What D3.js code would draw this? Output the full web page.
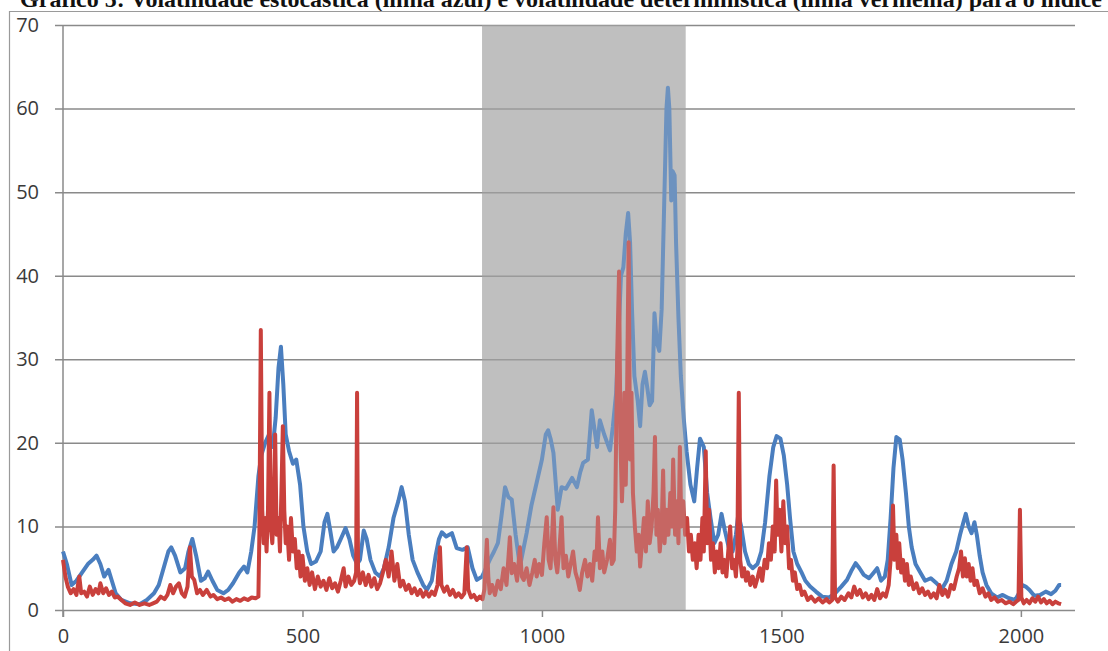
<!DOCTYPE html>
<html>
<head>
<meta charset="utf-8">
<script src="https://cdn.jsdelivr.net/npm/d3@7"></script>
<style>
  body { margin: 0; background: #fff; }
  svg { display: block; }
</style>
</head>
<body>
<div id="chart"></div>
<script>
const titleText = "Gráfico 5: Volatilidade estocástica (linha azul) e volatilidade determinística (linha vermelha) para o índice";

const yTicks = [0, 10, 20, 30, 40, 50, 60, 70];
const xTicks = [0, 500, 1000, 1500, 2000];

// shaded period (observation index)
const shadeStart = 875;
const shadeEnd = 1300;

// stochastic volatility (blue) [t, value]
const blueSeries = [
  [0,7],[8,5.5],[18,3],[28,3.5],[40,4.5],[52,5.5],[62,6],[70,6.5],[78,5.5],[86,4],[95,4.8],[102,3.5],[110,2],[122,1.2],
  [140,0.8],[160,0.7],[175,1.2],[190,2],[200,3],[210,5],[220,7],[226,7.5],[234,6.5],[245,4.5],[255,5],[262,7],[270,8.5],
  [278,6.5],[288,3.5],[296,3.8],[303,4.6],[312,3.5],[322,2.4],[335,2],[345,2.4],[355,3.2],[368,4.5],[378,5.2],[385,4.5],
  [393,7],[400,10],[408,16],[414,18.5],[422,20],[430,21],[438,19.5],[444,23],[450,29],[455,31.5],[460,27],[465,21],
  [472,19],[480,17.5],[487,18],[495,15],[502,10],[510,7],[518,5.5],[528,5.8],[538,7],[546,10.5],[552,11.5],[558,9.5],
  [565,7],[572,7.5],[580,8.5],[590,9.8],[598,8.5],[606,6.5],[614,5.5],[620,6],[628,9.5],[634,8.5],[642,6],[652,4.5],
  [662,4],[670,5],[680,7.5],[690,11],[700,13],[707,14.7],[714,13],[722,9],[730,6],[740,4.5],[752,3],[760,2.4],[770,3.5],
  [778,6.5],[785,8.5],[791,9.3],[800,8.8],[812,9.2],[822,7.4],[834,7.2],[845,7.5],[855,5],[864,3.6],[875,4],[883,5],
  [891,6],[900,7],[908,8],[915,11],[923,14.7],[930,13.5],[937,13.2],[945,9],[954,5.2],[962,7.5],[968,9.2],[978,12.5],
  [990,15.5],[1000,18],[1008,21],[1013,21.5],[1018,20.5],[1024,18.8],[1033,12],[1041,14.7],[1050,14.5],[1063,15.8],
  [1073,14.7],[1080,16.5],[1086,17.6],[1096,18],[1104,23.9],[1110,21.5],[1115,19.5],[1121,22.7],[1130,21],[1142,19.1],
  [1148,21.9],[1155,26],[1160,33],[1165,40],[1170,41],[1175,45],[1180,47.5],[1184,44],[1188,36],[1193,28],[1200,25],
  [1205,22],[1210,27],[1215,28.5],[1219,27],[1225,24.5],[1230,25],[1235,35.5],[1240,32],[1245,31],[1250,36],[1255,48],
  [1260,60],[1263,62.5],[1266,60],[1270,49],[1273,52.5],[1277,52],[1280,44],[1285,35],[1290,28],[1296,23],[1302,19],
  [1310,15],[1318,13],[1324,17],[1330,20.5],[1338,19.5],[1345,14],[1352,11],[1360,8],[1368,9],[1375,11.5],[1382,9.5],
  [1390,7.5],[1398,7],[1405,9],[1410,11.5],[1416,10],[1424,7],[1432,5.5],[1440,5],[1450,5.5],[1458,7],[1466,10.5],
  [1475,16],[1483,19.5],[1490,20.8],[1498,20.5],[1505,18.5],[1512,15],[1518,11],[1525,7],[1533,5.5],[1542,4.5],[1550,3.5],
  [1560,2.8],[1572,2.2],[1585,1.6],[1600,1.5],[1612,2],[1625,2.8],[1637,3.6],[1647,4.8],[1655,5.6],[1663,5],[1672,4.2],
  [1683,3.8],[1693,4.5],[1700,5],[1708,3.5],[1716,4],[1722,6],[1728,11],[1734,17],[1740,20.7],[1747,20.4],[1753,18],
  [1760,14],[1766,10],[1772,7.5],[1780,5.5],[1790,4.5],[1800,3.5],[1812,3.8],[1824,3.2],[1835,2.5],[1845,3.5],[1855,5.5],
  [1865,7],[1873,9],[1880,10.5],[1885,11.5],[1891,10],[1897,9.2],[1903,10.5],[1908,9],[1914,6.5],[1920,4.5],[1928,3],
  [1938,2],[1950,1.5],[1962,1.8],[1975,1.4],[1988,1.2],[1996,2],[2002,3],[2010,2.8],[2018,2.4],[2028,1.7],[2040,1.8],
  [2052,2.2],[2063,1.9],[2072,2.3],[2080,3],[2084,3]
];

// deterministic volatility (red) [t, value]
const redSeries = [
  [0,6],[5,4],[10,2.8],[16,2],[22,2.5],[28,1.8],[34,4],[38,2],[44,2.2],[50,1.6],[56,2.8],[62,1.8],[68,2.5],[74,2],[78,3.2],
  [84,2],[90,2.6],[96,1.8],[102,2.2],[108,1.5],[114,1.6],[122,1.2],[130,0.8],[140,0.6],[150,0.9],[160,0.6],[170,0.8],
  [180,0.6],[188,0.8],[196,1],[204,1.6],[212,1.3],[218,1.8],[224,3],[230,2],[236,2.8],[242,3.2],[248,2],[254,1.6],[260,2.8],
  [265,7.5],[269,4],[274,3.6],[280,2],[286,2.4],[292,1.8],[300,2.4],[308,1.6],[314,1.8],[322,1.3],[330,1.5],[338,1.2],
  [346,1.4],[354,1],[362,1.3],[370,1.1],[378,1.4],[386,1.2],[394,1.5],[402,1.4],[408,1.6],[410,9],[413,33.5],[416,12],
  [419,8],[422,11],[425,7],[428,12],[431,26],[434,10],[437,8],[440,12],[443,21],[446,9],[450,11],[453,7],[456,14],[459,22],
  [462,12],[465,8],[468,10],[472,6],[476,11],[480,7],[484,8.5],[488,5],[492,7],[496,4],[500,6.5],[505,3.5],[510,5],[515,3],
  [520,4.5],[526,2.5],[532,4],[538,2.8],[544,3.5],[550,2.4],[556,3.8],[562,2.6],[568,3.2],[574,2.2],[580,3.5],[586,5],
  [590,2.8],[596,4],[602,3],[608,3.5],[612,4.5],[614,26],[616,5],[620,3.2],[626,4.5],[632,3],[638,4.2],[644,2.8],[650,3.8],
  [656,2.5],[662,3.2],[668,4.5],[674,6],[680,4],[686,7],[692,3.5],[698,5.5],[704,2.8],[710,3.5],[716,2.4],[722,3],[728,2],
  [734,2.6],[740,1.8],[746,2.4],[752,1.6],[758,2.2],[764,1.6],[770,2.2],[776,1.8],[782,3],[787,7.5],[790,3],[796,2.2],
  [802,2.8],[808,1.8],[814,2.4],[820,1.6],[826,2],[832,1.5],[838,2],[843,7.5],[846,2.5],[852,1.5],[858,1.8],[864,1.2],
  [870,1.6],[876,1.3],[880,2.5],[885,8.4],[888,4],[891,2],[896,3],[902,1.8],[908,3.5],[914,2.5],[920,5],[926,3],[933,8.7],
  [937,4.4],[942,5.5],[948,3.5],[954,7.5],[958,4],[962,3.6],[968,5],[974,3],[980,4.5],[985,6],[989,4],[994,5.5],[1000,4.2],
  [1005,8],[1010,11.1],[1014,6],[1018,5],[1024,12.3],[1028,6],[1032,4.5],[1036,7],[1041,11.1],[1045,5],[1050,6.5],[1055,4],
  [1060,5.5],[1065,7],[1070,4.5],[1075,3.5],[1079,2.4],[1084,4.5],[1090,6],[1095,4],[1100,5.5],[1105,3.5],[1110,7],[1114,6],
  [1117,11.1],[1121,5],[1126,7],[1130,4.5],[1136,6],[1142,8.4],[1146,5.5],[1150,6],[1153,12],[1157,30],[1161,40.5],
  [1164,20],[1167,13],[1170,18],[1172,26],[1175,15],[1178,27],[1181,44],[1184,18],[1187,26],[1190,14],[1194,10],[1198,7],
  [1202,9],[1205,5.2],[1209,8],[1213,11],[1217,7],[1221,13],[1225,8],[1229,10],[1233,14],[1236,20.7],[1239,9],[1242,12],
  [1246,7],[1250,10],[1253,16.7],[1256,8],[1260,12],[1264,9],[1268,14],[1271,10],[1274,18],[1278,9],[1282,13],[1285,8],
  [1288,19.5],[1291,10],[1295,13],[1299,9],[1303,11],[1307,7],[1311,9],[1315,6],[1319,8],[1323,5],[1327,9],[1331,6],
  [1335,11],[1338,7],[1342,19],[1345,8],[1349,12],[1353,6],[1357,8],[1361,4.5],[1365,7],[1369,5],[1373,8],[1377,4.5],
  [1381,6],[1385,4],[1389,7],[1393,10],[1397,5],[1401,6],[1405,4],[1408,7],[1411,26],[1414,6],[1418,4],[1422,5],[1426,3.5],
  [1430,4.5],[1435,3],[1440,4],[1445,2.8],[1450,3.8],[1455,5],[1460,3.5],[1465,6],[1470,5],[1474,8],[1478,6],[1482,10],
  [1486,7],[1489,15.5],[1492,9],[1496,12],[1500,7],[1504,13],[1508,8],[1512,10],[1516,5],[1520,6],[1524,3.5],[1528,4.5],
  [1533,2.5],[1538,3],[1543,1.8],[1548,2.2],[1555,1.2],[1562,1.6],[1570,1],[1578,1.4],[1586,0.9],[1594,1.3],[1600,0.9],
  [1606,1.2],[1609,17.3],[1612,1.5],[1618,1],[1625,1.6],[1632,1.2],[1640,2],[1646,1.5],[1652,2.8],[1658,1.8],[1664,2.4],
  [1670,1.5],[1676,2],[1682,1.3],[1688,1.8],[1694,1.2],[1700,2.5],[1706,1.4],[1712,2],[1718,1.6],[1724,3],[1728,6],[1731,9],
  [1733,12.5],[1736,6],[1740,9],[1743,5],[1746,8],[1750,4.5],[1754,6],[1758,3.5],[1762,5.5],[1766,3],[1770,4],[1776,2.5],
  [1782,3.2],[1788,2],[1794,2.6],[1800,1.8],[1806,2.2],[1812,1.5],[1818,2],[1824,1.4],[1830,3],[1836,1.8],[1842,2.4],
  [1848,1.6],[1854,3],[1860,2.5],[1866,4],[1871,5],[1875,7],[1879,4],[1883,6.2],[1887,4],[1891,5.5],[1895,3.5],[1899,5],
  [1903,3],[1908,3.5],[1914,2],[1920,2.6],[1926,1.6],[1932,2],[1938,1.2],[1945,1.5],[1952,1],[1960,1.2],[1968,0.8],
  [1976,1],[1984,0.7],[1990,1],[1995,1.2],[1998,12],[2001,1.5],[2006,0.8],[2012,1.2],[2018,0.8],[2024,1.4],[2030,1],
  [2036,1.6],[2042,0.9],[2048,1.3],[2054,0.8],[2060,1.1],[2066,0.7],[2072,1],[2078,0.8],[2084,0.7]
];

const width = 1108;
const height = 651;
const margin = {top: 25, right: 33, bottom: 41, left: 63};

const svg = d3.select('#chart')
    .append('svg')
    .attr('width', width)
    .attr('height', height);

const x = d3.scaleLinear()
    .domain([0, 2113])
    .range([margin.left, width - margin.right]);

const y = d3.scaleLinear()
    .domain([0, 70])
    .range([height - margin.bottom, margin.top]);

// title (the scan cuts it at the top edge)
svg.append('text')
    .attr('x', 1102)
    .attr('y', 7)
    .attr('text-anchor', 'end')
    .attr('font-family', 'Liberation Serif, serif')
    .attr('font-weight', 'bold')
    .attr('font-size', '24px')
    .attr('fill', '#111')
    .text(titleText);

// chart frame
svg.append('path')
    .attr('d', `M9.5,${height} V11.5 H${width}`)
    .attr('fill', 'none')
    .attr('stroke', '#9a9a9a')
    .attr('stroke-width', 1.2);

// shaded period
svg.append('rect')
    .attr('x', x(shadeStart))
    .attr('y', y(70))
    .attr('width', x(shadeEnd) - x(shadeStart))
    .attr('height', y(0) - y(70))
    .attr('fill', '#bfbfbf');

// y axis with gridlines
const yAxis = svg.append('g')
    .attr('transform', `translate(${margin.left},0)`)
    .call(d3.axisLeft(y).tickValues(yTicks).tickSize(0).tickPadding(24));
yAxis.select('.domain').remove();
yAxis.selectAll('.tick line')
    .attr('x1', -8)
    .attr('x2', x(2113) - margin.left)
    .attr('stroke', '#8a8a8a')
    .attr('stroke-width', 1.5);
yAxis.selectAll('.tick text')
    .attr('font-family', 'Open Sans, sans-serif')
    .attr('font-size', '20px')
    .attr('fill', '#3a3a3a');

// vertical axis line
svg.append('line')
    .attr('x1', margin.left).attr('x2', margin.left)
    .attr('y1', y(70)).attr('y2', y(0) + 7)
    .attr('stroke', '#8a8a8a')
    .attr('stroke-width', 1.5);

// x axis
const xAxis = svg.append('g')
    .attr('transform', `translate(0,${y(0)})`)
    .call(d3.axisBottom(x).tickValues(xTicks).tickFormat(d3.format('d')).tickSize(7).tickPadding(12));
xAxis.select('.domain').remove();
xAxis.selectAll('.tick line')
    .attr('stroke', '#8a8a8a')
    .attr('stroke-width', 1.5);
xAxis.selectAll('.tick text')
    .attr('font-family', 'Open Sans, sans-serif')
    .attr('font-size', '20px')
    .attr('fill', '#3a3a3a');

const line = d3.line()
    .x(d => x(d[0]))
    .y(d => y(d[1]));

svg.append('path')
    .datum(blueSeries)
    .attr('d', line)
    .attr('fill', 'none')
    .attr('stroke', '#4a7ebf')
    .attr('stroke-width', 4)
    .attr('stroke-linejoin', 'round');

svg.append('path')
    .datum(redSeries)
    .attr('d', line)
    .attr('fill', 'none')
    .attr('stroke', '#c9403c')
    .attr('stroke-width', 4)
    .attr('stroke-linejoin', 'round');

// the shaded band washes out the lines a little
svg.append('rect')
    .attr('x', x(shadeStart))
    .attr('y', y(70))
    .attr('width', x(shadeEnd) - x(shadeStart))
    .attr('height', y(0) - y(70))
    .attr('fill', '#bfbfbf')
    .attr('opacity', 0.3);
</script>
</body>
</html>
